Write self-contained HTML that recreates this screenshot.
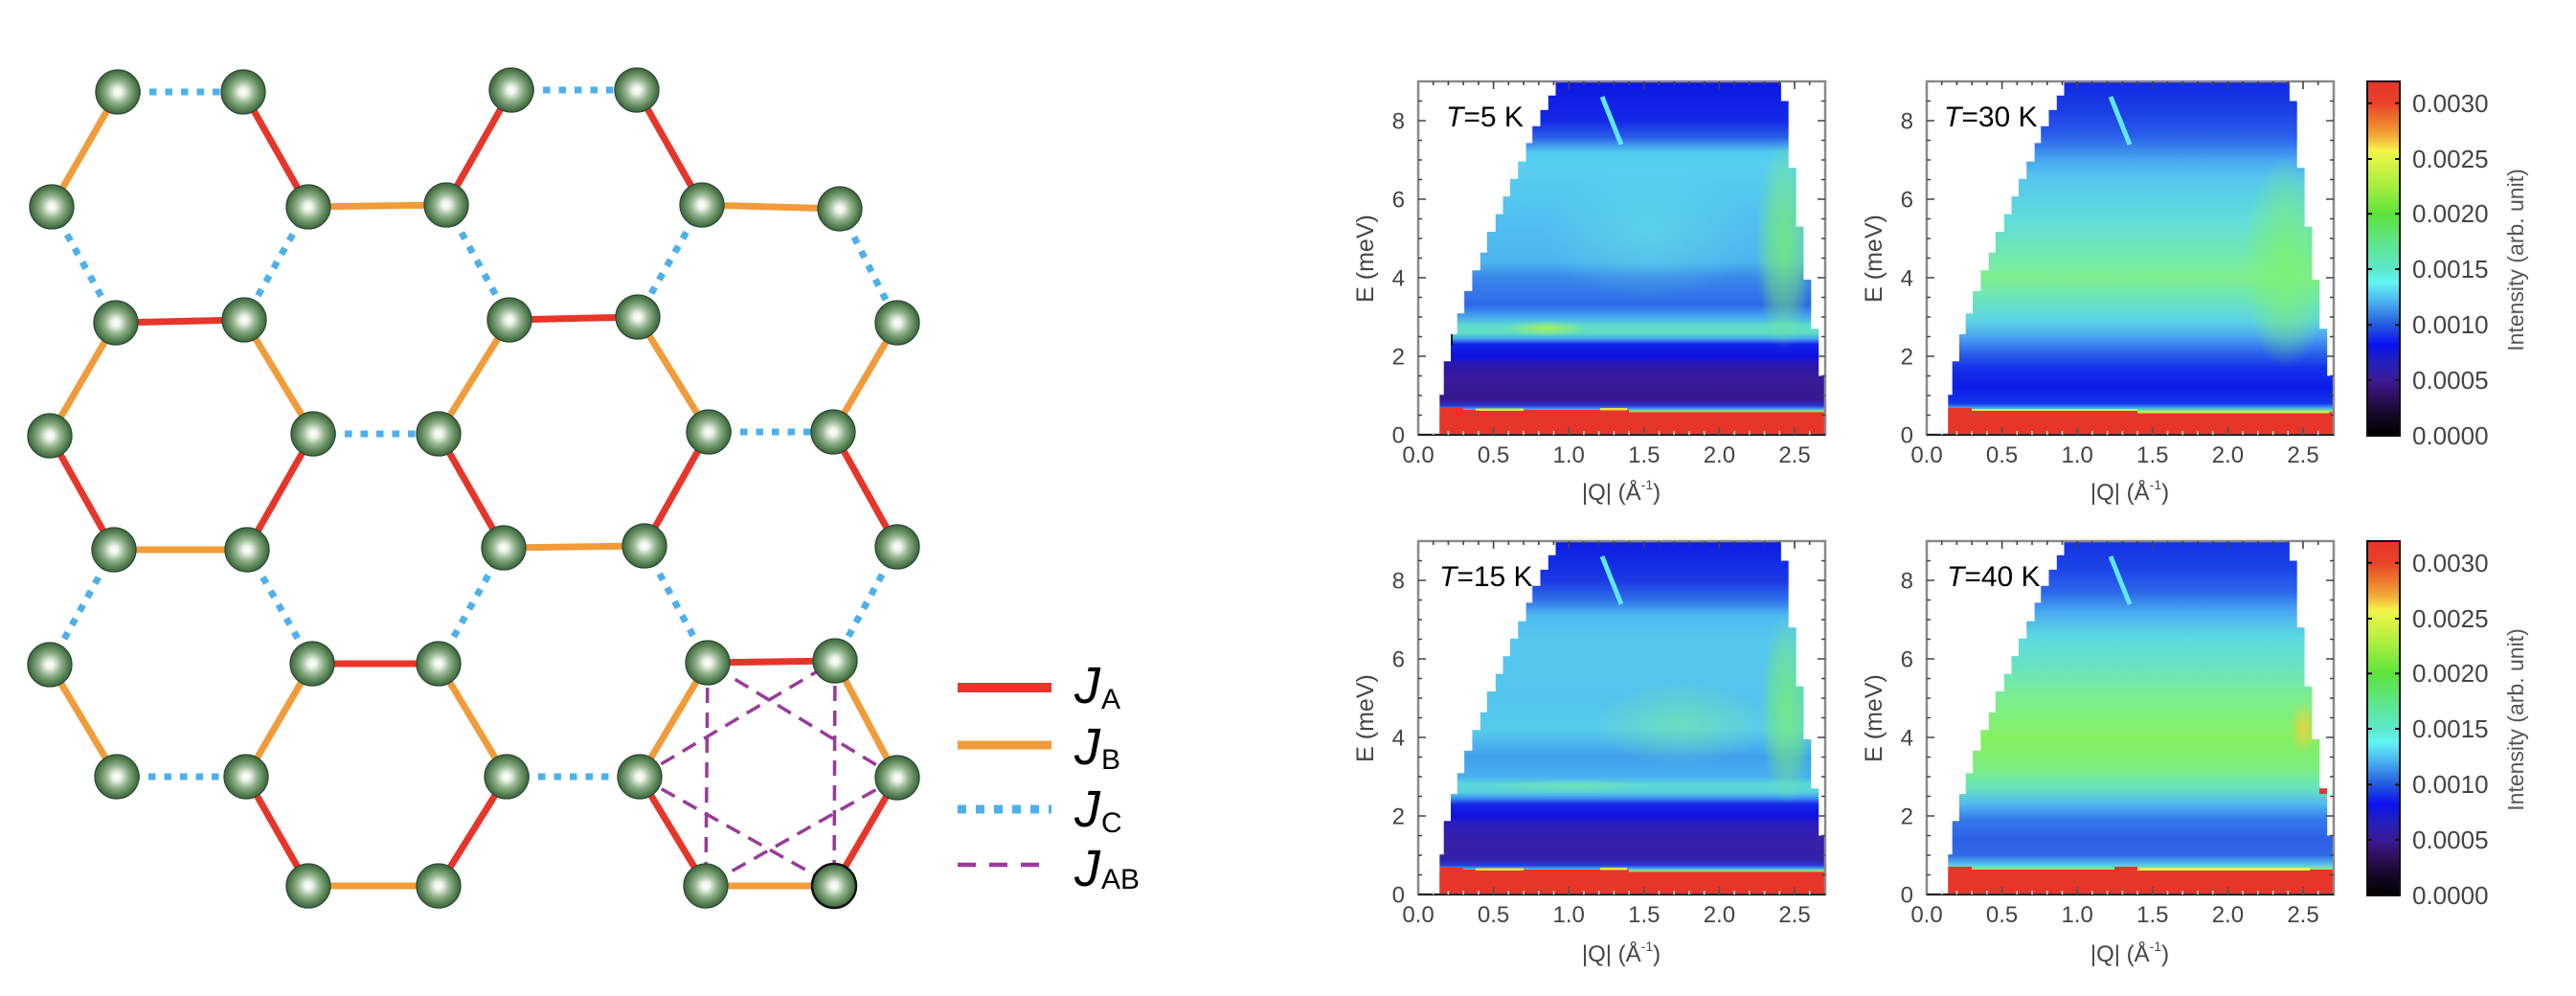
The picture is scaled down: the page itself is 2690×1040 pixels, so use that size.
<!DOCTYPE html>
<html><head><meta charset="utf-8"><style>
html,body{margin:0;padding:0;background:#fff;}
svg{display:block;}
text{font-family:"Liberation Sans",Arial,sans-serif;}
</style></head><body>
<svg width="2690" height="1040" viewBox="0 0 2690 1040" xmlns="http://www.w3.org/2000/svg">
<defs>
<radialGradient id="ball" cx="50%" cy="50%" r="50%">
<stop offset="0" stop-color="#ffffff"/><stop offset="0.18" stop-color="#eef4ea"/><stop offset="0.5" stop-color="#94b48f"/><stop offset="0.8" stop-color="#5a8456"/><stop offset="1" stop-color="#3c663c"/>
</radialGradient>
<radialGradient id="rgGreen" cx="50%" cy="50%" r="50%">
<stop offset="0" stop-color="#7cf070" stop-opacity="0.8"/><stop offset="0.6" stop-color="#7cf070" stop-opacity="0.45"/><stop offset="1" stop-color="#7cf070" stop-opacity="0"/>
</radialGradient>
<radialGradient id="rgCyan" cx="50%" cy="50%" r="50%">
<stop offset="0" stop-color="#66e4e0" stop-opacity="0.5"/><stop offset="1" stop-color="#66e4e0" stop-opacity="0"/>
</radialGradient>
<radialGradient id="rgGC" cx="50%" cy="50%" r="50%">
<stop offset="0" stop-color="#7eec98" stop-opacity="0.55"/><stop offset="1" stop-color="#7eec98" stop-opacity="0"/>
</radialGradient>
<radialGradient id="rgYel" cx="50%" cy="50%" r="50%">
<stop offset="0" stop-color="#f4d040" stop-opacity="0.9"/><stop offset="1" stop-color="#f4d040" stop-opacity="0"/>
</radialGradient>
<radialGradient id="rgLime" cx="50%" cy="50%" r="50%">
<stop offset="0" stop-color="#a8f060" stop-opacity="0.95"/><stop offset="1" stop-color="#a8f060" stop-opacity="0"/>
</radialGradient>
<clipPath id="dclip"><polygon points="22.3,369 22.3,327.2 26.7,327.2 26.7,292.3 34,292.3 34,264 40.7,264 40.7,242.3 48.1,242.3 48.1,218.9 56.4,218.9 56.4,197.2 64.8,197.2 64.8,178.8 71.8,178.8 71.8,157 80.8,157 80.8,138.6 88.5,138.6 88.5,120.1 95.9,120.1 95.9,101.7 104.2,101.7 104.2,83.6 112.6,83.6 112.6,64.4 119.2,64.4 119.2,46.7 127.5,46.7 127.5,29.9 135.8,29.9 135.8,14.8 143.5,14.8 143.5,0 378.9,0 378.9,20.5 386.7,20.5 386.7,90.2 394.6,90.2 394.6,151.7 402.4,151.7 402.4,207 410.3,207 410.3,258.3 418.2,258.3 418.2,307.5 425,307.5 425,369"/></clipPath>
<linearGradient id="g5" x1="0" y1="0" x2="0" y2="369" gradientUnits="userSpaceOnUse">
<stop offset="0" stop-color="#0c18e4"/><stop offset="0.111" stop-color="#1428e6"/><stop offset="0.156" stop-color="#2a5ae8"/><stop offset="0.2" stop-color="#50c8f0"/><stop offset="0.233" stop-color="#58d0f0"/><stop offset="0.389" stop-color="#50c0f0"/><stop offset="0.511" stop-color="#4cb4ee"/><stop offset="0.556" stop-color="#3a86ea"/><stop offset="0.633" stop-color="#2c68e8"/><stop offset="0.667" stop-color="#48a8f0"/><stop offset="0.689" stop-color="#5cdad0"/><stop offset="0.711" stop-color="#60e0c0"/><stop offset="0.728" stop-color="#48a8f0"/><stop offset="0.744" stop-color="#1424e8"/><stop offset="0.778" stop-color="#0c10e4"/><stop offset="0.8" stop-color="#2a18b0"/><stop offset="0.844" stop-color="#3a1a98"/><stop offset="0.9" stop-color="#361890"/><stop offset="0.917" stop-color="#2a30d0"/><stop offset="0.927" stop-color="#40a0f0"/><stop offset="0.933" stop-color="#a0f060"/><stop offset="0.938" stop-color="#e8352a"/><stop offset="1" stop-color="#e8352a"/>
</linearGradient>
<linearGradient id="g15" x1="0" y1="0" x2="0" y2="369" gradientUnits="userSpaceOnUse">
<stop offset="0" stop-color="#0c1ce4"/><stop offset="0.111" stop-color="#1a38e4"/><stop offset="0.167" stop-color="#3070ea"/><stop offset="0.211" stop-color="#4cbcf0"/><stop offset="0.278" stop-color="#56c8ee"/><stop offset="0.444" stop-color="#52c4ee"/><stop offset="0.533" stop-color="#56ccec"/><stop offset="0.611" stop-color="#40a0ee"/><stop offset="0.667" stop-color="#48b0f0"/><stop offset="0.689" stop-color="#5cd8d8"/><stop offset="0.711" stop-color="#58d0e0"/><stop offset="0.728" stop-color="#3a90f0"/><stop offset="0.744" stop-color="#1428e8"/><stop offset="0.778" stop-color="#1010e0"/><stop offset="0.8" stop-color="#2a1cc0"/><stop offset="0.844" stop-color="#3620a8"/><stop offset="0.9" stop-color="#3420a8"/><stop offset="0.917" stop-color="#2838d8"/><stop offset="0.927" stop-color="#40a8f0"/><stop offset="0.933" stop-color="#a0f060"/><stop offset="0.938" stop-color="#e8352a"/><stop offset="1" stop-color="#e8352a"/>
</linearGradient>
<linearGradient id="g30" x1="0" y1="0" x2="0" y2="369" gradientUnits="userSpaceOnUse">
<stop offset="0" stop-color="#1028e2"/><stop offset="0.089" stop-color="#1c40e6"/><stop offset="0.156" stop-color="#2a60ea"/><stop offset="0.222" stop-color="#48a8f0"/><stop offset="0.278" stop-color="#56c8ee"/><stop offset="0.389" stop-color="#60dcdc"/><stop offset="0.489" stop-color="#70e8b0"/><stop offset="0.556" stop-color="#80ee90"/><stop offset="0.622" stop-color="#68e4c0"/><stop offset="0.678" stop-color="#5cd4e4"/><stop offset="0.722" stop-color="#4ca4f0"/><stop offset="0.767" stop-color="#2c64ea"/><stop offset="0.811" stop-color="#1430e8"/><stop offset="0.867" stop-color="#0c1ce8"/><stop offset="0.911" stop-color="#1434e8"/><stop offset="0.924" stop-color="#40a8f0"/><stop offset="0.933" stop-color="#90ec80"/><stop offset="0.938" stop-color="#e8352a"/><stop offset="1" stop-color="#e8352a"/>
</linearGradient>
<linearGradient id="g40" x1="0" y1="0" x2="0" y2="369" gradientUnits="userSpaceOnUse">
<stop offset="0" stop-color="#1430e6"/><stop offset="0.078" stop-color="#1c44e8"/><stop offset="0.144" stop-color="#2c68ea"/><stop offset="0.2" stop-color="#48a8f0"/><stop offset="0.267" stop-color="#5cd8e4"/><stop offset="0.356" stop-color="#68e4c0"/><stop offset="0.444" stop-color="#7cee90"/><stop offset="0.556" stop-color="#84f060"/><stop offset="0.644" stop-color="#7cee80"/><stop offset="0.7" stop-color="#66e4c0"/><stop offset="0.744" stop-color="#50b8f0"/><stop offset="0.789" stop-color="#3478ea"/><stop offset="0.844" stop-color="#2c60e8"/><stop offset="0.889" stop-color="#3068e8"/><stop offset="0.917" stop-color="#5cc8ec"/><stop offset="0.929" stop-color="#90ee70"/><stop offset="0.938" stop-color="#e8352a"/><stop offset="1" stop-color="#e8352a"/>
</linearGradient>
<linearGradient id="cb" x1="0" y1="0" x2="0" y2="1">
<stop offset="0" stop-color="#e8352a"/><stop offset="0.061" stop-color="#e8422a"/><stop offset="0.113" stop-color="#ee7a2c"/><stop offset="0.158" stop-color="#f2b03a"/><stop offset="0.194" stop-color="#f6f24a"/><stop offset="0.219" stop-color="#e2f446"/><stop offset="0.293" stop-color="#a8ee40"/><stop offset="0.374" stop-color="#5ce43c"/><stop offset="0.455" stop-color="#5ee68a"/><stop offset="0.53" stop-color="#5ce8cc"/><stop offset="0.568" stop-color="#62f4f4"/><stop offset="0.617" stop-color="#4cb8f0"/><stop offset="0.688" stop-color="#2458e0"/><stop offset="0.743" stop-color="#0a10f0"/><stop offset="0.788" stop-color="#2020c0"/><stop offset="0.842" stop-color="#3c1a98"/><stop offset="0.887" stop-color="#2e1060"/><stop offset="0.941" stop-color="#160828"/><stop offset="1" stop-color="#000000"/>
</linearGradient>
</defs>

<rect width="2690" height="1040" fill="#fff"/>

<!-- ============ LATTICE ============ -->
<g stroke-width="7" stroke-linecap="butt" fill="none">
<g stroke="#e8352a">
<line x1="254" y1="96" x2="322" y2="216"/><line x1="534" y1="94" x2="466" y2="214"/><line x1="665" y1="94" x2="733" y2="214"/>
<line x1="121" y1="337" x2="255" y2="334"/><line x1="532" y1="334" x2="666" y2="331"/>
<line x1="52" y1="455" x2="119" y2="574"/><line x1="327" y1="453" x2="258" y2="574"/><line x1="458" y1="453" x2="526" y2="572"/><line x1="740" y1="451" x2="673" y2="570"/><line x1="870" y1="451" x2="937" y2="571"/>
<line x1="326" y1="693" x2="458" y2="693"/><line x1="739" y1="692" x2="872" y2="690"/>
<line x1="257" y1="811" x2="322" y2="925"/><line x1="529" y1="811" x2="458" y2="925"/><line x1="668" y1="811" x2="737" y2="925"/><line x1="937" y1="812" x2="871" y2="925"/>
</g>
<g stroke="#f19b3a">
<line x1="123" y1="96" x2="54" y2="216"/><line x1="322" y1="216" x2="466" y2="214"/><line x1="733" y1="214" x2="877" y2="218"/>
<line x1="121" y1="337" x2="52" y2="455"/><line x1="255" y1="334" x2="327" y2="453"/><line x1="532" y1="334" x2="458" y2="453"/><line x1="666" y1="331" x2="740" y2="451"/><line x1="937" y1="337" x2="870" y2="451"/>
<line x1="119" y1="574" x2="258" y2="574"/><line x1="526" y1="572" x2="673" y2="570"/>
<line x1="52" y1="694" x2="122" y2="811"/><line x1="326" y1="693" x2="257" y2="811"/><line x1="458" y1="693" x2="529" y2="811"/><line x1="739" y1="692" x2="668" y2="811"/><line x1="872" y1="690" x2="937" y2="812"/>
<line x1="322" y1="925" x2="458" y2="925"/><line x1="737" y1="925" x2="871" y2="925"/>
</g>
<g stroke="#4db0ec" stroke-dasharray="7.5 9">
<line x1="123" y1="96" x2="254" y2="96"/><line x1="534" y1="94" x2="665" y2="94"/>
<line x1="54" y1="216" x2="121" y2="337"/><line x1="322" y1="216" x2="255" y2="334"/><line x1="466" y1="214" x2="532" y2="334"/><line x1="733" y1="214" x2="666" y2="331"/><line x1="877" y1="218" x2="937" y2="337"/>
<line x1="327" y1="453" x2="458" y2="453"/><line x1="740" y1="451" x2="870" y2="451"/>
<line x1="119" y1="574" x2="52" y2="694"/><line x1="258" y1="574" x2="326" y2="693"/><line x1="526" y1="572" x2="458" y2="693"/><line x1="673" y1="570" x2="739" y2="692"/><line x1="937" y1="571" x2="872" y2="690"/>
<line x1="122" y1="811" x2="257" y2="811"/><line x1="529" y1="811" x2="668" y2="811"/>
</g>
<g stroke="#9a3a9a" stroke-width="3.5" stroke-dasharray="16 10">
<line x1="668" y1="811" x2="872" y2="690"/><line x1="668" y1="811" x2="871" y2="925"/><line x1="872" y1="690" x2="871" y2="925"/>
<line x1="937" y1="812" x2="739" y2="692"/><line x1="937" y1="812" x2="737" y2="925"/><line x1="739" y1="692" x2="737" y2="925"/>
</g>
</g>
<g fill="url(#ball)" stroke="#2e4a38" stroke-width="1.3">
<circle cx="123" cy="96" r="23"/><circle cx="254" cy="96" r="23"/><circle cx="534" cy="94" r="23"/><circle cx="665" cy="94" r="23"/>
<circle cx="54" cy="216" r="23"/><circle cx="322" cy="216" r="23"/><circle cx="466" cy="214" r="23"/><circle cx="733" cy="214" r="23"/><circle cx="877" cy="218" r="23"/>
<circle cx="121" cy="337" r="23"/><circle cx="255" cy="334" r="23"/><circle cx="532" cy="334" r="23"/><circle cx="666" cy="331" r="23"/><circle cx="937" cy="337" r="23"/>
<circle cx="52" cy="455" r="23"/><circle cx="327" cy="453" r="23"/><circle cx="458" cy="453" r="23"/><circle cx="740" cy="451" r="23"/><circle cx="870" cy="451" r="23"/>
<circle cx="119" cy="574" r="23"/><circle cx="258" cy="574" r="23"/><circle cx="526" cy="572" r="23"/><circle cx="673" cy="570" r="23"/><circle cx="937" cy="571" r="23"/>
<circle cx="52" cy="694" r="23"/><circle cx="326" cy="693" r="23"/><circle cx="458" cy="693" r="23"/><circle cx="739" cy="692" r="23"/><circle cx="872" cy="690" r="23"/>
<circle cx="122" cy="811" r="23"/><circle cx="257" cy="811" r="23"/><circle cx="529" cy="811" r="23"/><circle cx="668" cy="811" r="23"/><circle cx="937" cy="812" r="23"/>
<circle cx="322" cy="925" r="23"/><circle cx="458" cy="925" r="23"/><circle cx="737" cy="925" r="23"/>
<circle cx="871" cy="925" r="23" stroke="#111" stroke-width="2.5"/>
</g>

<!-- ============ LEGEND ============ -->
<line x1="1000" y1="718" x2="1098" y2="718" stroke="#e8342a" stroke-width="10"/>
<line x1="1000" y1="778" x2="1098" y2="778" stroke="#f19b3a" stroke-width="9"/>
<line x1="1000" y1="845" x2="1098" y2="845" stroke="#4db0ec" stroke-width="9" stroke-dasharray="9 10"/>
<line x1="1000" y1="903" x2="1098" y2="903" stroke="#9b3a9b" stroke-width="4.5" stroke-dasharray="19 14"/>
<g fill="#000">
<text x="1122" y="734" font-size="54" font-style="italic">J</text><text x="1150" y="740" font-size="30">A</text>
<text x="1122" y="798" font-size="54" font-style="italic">J</text><text x="1150" y="803" font-size="30">B</text>
<text x="1122" y="863" font-size="54" font-style="italic">J</text><text x="1150" y="869" font-size="30">C</text>
<text x="1122" y="925" font-size="54" font-style="italic">J</text><text x="1150" y="928" font-size="30">AB</text>
</g>

<!-- ============ PANEL T=5K ============ -->
<g transform="translate(1481,85)">
<g clip-path="url(#dclip)">
<rect x="0" y="0" width="425" height="369" fill="url(#g5)"/>
<ellipse cx="240" cy="160" rx="110" ry="70" fill="url(#rgCyan)"/>
<ellipse cx="382" cy="170" rx="30" ry="110" fill="url(#rgGreen)"/>
<ellipse cx="134" cy="258" rx="45" ry="8" fill="url(#rgLime)"/>
<rect x="0" y="341" width="47" height="28" fill="#e8352a"/>
<rect x="47" y="343" width="173" height="26" fill="#e8352a"/>
<rect x="60" y="341.5" width="50" height="2.5" fill="#f0e040"/>
<rect x="190" y="341" width="28" height="2.5" fill="#f0e040"/>
<rect x="30" y="258" width="6" height="18" fill="#000" opacity="0.8"/>
<path d="M192 16 L212 66" stroke="#60e8f0" stroke-width="5"/>
</g>
<rect x="0" y="0" width="425" height="369" fill="none" stroke="#8a8a8a" stroke-width="2.5"/>
<line x1="0" y1="369" x2="425" y2="369" stroke="#222" stroke-width="2"/>
<path d="M15.7 369v-4M31.4 369v-4M47.2 369v-4M62.9 369v-4M94.3 369v-4M110 369v-4M125.8 369v-4M141.5 369v-4M172.9 369v-4M188.6 369v-4M204.4 369v-4M220.1 369v-4M251.5 369v-4M267.2 369v-4M283 369v-4M298.7 369v-4M330.1 369v-4M345.8 369v-4M361.6 369v-4M377.3 369v-4M408.7 369v-4" stroke="#ddd" stroke-width="1.5"/>
<path d="M78.6 369v-8M157.2 369v-8M235.8 369v-8M314.4 369v-8M393 369v-8" stroke="#555" stroke-width="1.8"/>
<path d="M15.7 0v4M31.4 0v4M47.2 0v4M62.9 0v4M94.3 0v4M110 0v4M125.8 0v4M141.5 0v4M172.9 0v4M188.6 0v4M204.4 0v4M220.1 0v4M251.5 0v4M267.2 0v4M283 0v4M298.7 0v4M330.1 0v4M345.8 0v4M361.6 0v4M377.3 0v4M408.7 0v4M78.6 0v8M157.2 0v8M235.8 0v8M314.4 0v8M393 0v8M0 348.5h4M0 328h4M0 307.5h4M0 287h8M0 266.5h4M0 246h4M0 225.5h4M0 205h8M0 184.5h4M0 164h4M0 143.5h4M0 123h8M0 102.5h4M0 82h4M0 61.5h4M0 41h8M0 20.5h4M425 348.5h-4M425 328h-4M425 307.5h-4M425 287h-8M425 266.5h-4M425 246h-4M425 225.5h-4M425 205h-8M425 184.5h-4M425 164h-4M425 143.5h-4M425 123h-8M425 102.5h-4M425 82h-4M425 61.5h-4M425 41h-8M425 20.5h-4" stroke="#444" stroke-width="1.6"/>
<g font-size="24" fill="#444" text-anchor="end"><text x="-14" y="377.5">0</text><text x="-14" y="295.5">2</text><text x="-14" y="213.5">4</text><text x="-14" y="131.5">6</text><text x="-14" y="49.5">8</text></g>
<g font-size="24" fill="#444" text-anchor="middle"><text x="0" y="398">0.0</text><text x="78.6" y="398">0.5</text><text x="157.2" y="398">1.0</text><text x="235.8" y="398">1.5</text><text x="314.4" y="398">2.0</text><text x="393" y="398">2.5</text></g>
<text transform="translate(-47,185) rotate(-90)" font-size="25" fill="#444" text-anchor="middle">E (meV)</text>
<text x="212" y="437" font-size="24" fill="#444" text-anchor="middle">|Q| (Å<tspan font-size="14" dy="-11">-1</tspan><tspan dy="11">)</tspan></text>
<text x="29" y="47" font-size="30" fill="#000"><tspan font-style="italic">T</tspan>=5 K</text>
</g>

<!-- ============ PANEL T=30K ============ -->
<g transform="translate(2012,85)">
<g clip-path="url(#dclip)">
<rect x="0" y="0" width="425" height="369" fill="url(#g30)"/>
<ellipse cx="375" cy="190" rx="45" ry="110" fill="url(#rgGreen)"/>
<rect x="0" y="341" width="47" height="28" fill="#e8352a"/>
<rect x="47" y="342" width="173" height="3" fill="#e0e850"/>
<rect x="47" y="344" width="173" height="25" fill="#e8352a"/>
<rect x="220" y="344" width="200" height="2.5" fill="#c0f050"/>
<path d="M192 16 L212 66" stroke="#60e8f0" stroke-width="5"/>
</g>
<rect x="0" y="0" width="425" height="369" fill="none" stroke="#8a8a8a" stroke-width="2.5"/>
<line x1="0" y1="369" x2="425" y2="369" stroke="#222" stroke-width="2"/>
<path d="M15.7 369v-4M31.4 369v-4M47.2 369v-4M62.9 369v-4M94.3 369v-4M110 369v-4M125.8 369v-4M141.5 369v-4M172.9 369v-4M188.6 369v-4M204.4 369v-4M220.1 369v-4M251.5 369v-4M267.2 369v-4M283 369v-4M298.7 369v-4M330.1 369v-4M345.8 369v-4M361.6 369v-4M377.3 369v-4M408.7 369v-4" stroke="#ddd" stroke-width="1.5"/>
<path d="M78.6 369v-8M157.2 369v-8M235.8 369v-8M314.4 369v-8M393 369v-8" stroke="#555" stroke-width="1.8"/>
<path d="M15.7 0v4M31.4 0v4M47.2 0v4M62.9 0v4M94.3 0v4M110 0v4M125.8 0v4M141.5 0v4M172.9 0v4M188.6 0v4M204.4 0v4M220.1 0v4M251.5 0v4M267.2 0v4M283 0v4M298.7 0v4M330.1 0v4M345.8 0v4M361.6 0v4M377.3 0v4M408.7 0v4M78.6 0v8M157.2 0v8M235.8 0v8M314.4 0v8M393 0v8M0 348.5h4M0 328h4M0 307.5h4M0 287h8M0 266.5h4M0 246h4M0 225.5h4M0 205h8M0 184.5h4M0 164h4M0 143.5h4M0 123h8M0 102.5h4M0 82h4M0 61.5h4M0 41h8M0 20.5h4M425 348.5h-4M425 328h-4M425 307.5h-4M425 287h-8M425 266.5h-4M425 246h-4M425 225.5h-4M425 205h-8M425 184.5h-4M425 164h-4M425 143.5h-4M425 123h-8M425 102.5h-4M425 82h-4M425 61.5h-4M425 41h-8M425 20.5h-4" stroke="#444" stroke-width="1.6"/>
<g font-size="24" fill="#444" text-anchor="end"><text x="-14" y="377.5">0</text><text x="-14" y="295.5">2</text><text x="-14" y="213.5">4</text><text x="-14" y="131.5">6</text><text x="-14" y="49.5">8</text></g>
<g font-size="24" fill="#444" text-anchor="middle"><text x="0" y="398">0.0</text><text x="78.6" y="398">0.5</text><text x="157.2" y="398">1.0</text><text x="235.8" y="398">1.5</text><text x="314.4" y="398">2.0</text><text x="393" y="398">2.5</text></g>
<text transform="translate(-47,185) rotate(-90)" font-size="25" fill="#444" text-anchor="middle">E (meV)</text>
<text x="212" y="437" font-size="24" fill="#444" text-anchor="middle">|Q| (Å<tspan font-size="14" dy="-11">-1</tspan><tspan dy="11">)</tspan></text>
<text x="18" y="47" font-size="30" fill="#000"><tspan font-style="italic">T</tspan>=30 K</text>
</g>

<!-- ============ PANEL T=15K ============ -->
<g transform="translate(1481,565)">
<g clip-path="url(#dclip)">
<rect x="0" y="0" width="425" height="369" fill="url(#g15)"/>
<ellipse cx="275" cy="190" rx="90" ry="45" fill="url(#rgGC)"/>
<ellipse cx="385" cy="175" rx="28" ry="100" fill="url(#rgGreen)"/>
<ellipse cx="160" cy="256" rx="90" ry="7" fill="url(#rgGC)"/>
<rect x="0" y="341" width="47" height="28" fill="#e8352a"/>
<rect x="47" y="343" width="173" height="26" fill="#e8352a"/>
<rect x="60" y="341.5" width="50" height="2.5" fill="#f0e040"/>
<rect x="190" y="341" width="28" height="2.5" fill="#f0e040"/>
<path d="M192 16 L212 66" stroke="#60e8f0" stroke-width="5"/>
</g>
<rect x="0" y="0" width="425" height="369" fill="none" stroke="#8a8a8a" stroke-width="2.5"/>
<line x1="0" y1="369" x2="425" y2="369" stroke="#222" stroke-width="2"/>
<path d="M15.7 369v-4M31.4 369v-4M47.2 369v-4M62.9 369v-4M94.3 369v-4M110 369v-4M125.8 369v-4M141.5 369v-4M172.9 369v-4M188.6 369v-4M204.4 369v-4M220.1 369v-4M251.5 369v-4M267.2 369v-4M283 369v-4M298.7 369v-4M330.1 369v-4M345.8 369v-4M361.6 369v-4M377.3 369v-4M408.7 369v-4" stroke="#ddd" stroke-width="1.5"/>
<path d="M78.6 369v-8M157.2 369v-8M235.8 369v-8M314.4 369v-8M393 369v-8" stroke="#555" stroke-width="1.8"/>
<path d="M15.7 0v4M31.4 0v4M47.2 0v4M62.9 0v4M94.3 0v4M110 0v4M125.8 0v4M141.5 0v4M172.9 0v4M188.6 0v4M204.4 0v4M220.1 0v4M251.5 0v4M267.2 0v4M283 0v4M298.7 0v4M330.1 0v4M345.8 0v4M361.6 0v4M377.3 0v4M408.7 0v4M78.6 0v8M157.2 0v8M235.8 0v8M314.4 0v8M393 0v8M0 348.5h4M0 328h4M0 307.5h4M0 287h8M0 266.5h4M0 246h4M0 225.5h4M0 205h8M0 184.5h4M0 164h4M0 143.5h4M0 123h8M0 102.5h4M0 82h4M0 61.5h4M0 41h8M0 20.5h4M425 348.5h-4M425 328h-4M425 307.5h-4M425 287h-8M425 266.5h-4M425 246h-4M425 225.5h-4M425 205h-8M425 184.5h-4M425 164h-4M425 143.5h-4M425 123h-8M425 102.5h-4M425 82h-4M425 61.5h-4M425 41h-8M425 20.5h-4" stroke="#444" stroke-width="1.6"/>
<g font-size="24" fill="#444" text-anchor="end"><text x="-14" y="377.5">0</text><text x="-14" y="295.5">2</text><text x="-14" y="213.5">4</text><text x="-14" y="131.5">6</text><text x="-14" y="49.5">8</text></g>
<g font-size="24" fill="#444" text-anchor="middle"><text x="0" y="398">0.0</text><text x="78.6" y="398">0.5</text><text x="157.2" y="398">1.0</text><text x="235.8" y="398">1.5</text><text x="314.4" y="398">2.0</text><text x="393" y="398">2.5</text></g>
<text transform="translate(-47,185) rotate(-90)" font-size="25" fill="#444" text-anchor="middle">E (meV)</text>
<text x="212" y="439" font-size="24" fill="#444" text-anchor="middle">|Q| (Å<tspan font-size="14" dy="-11">-1</tspan><tspan dy="11">)</tspan></text>
<text x="22" y="47" font-size="30" fill="#000"><tspan font-style="italic">T</tspan>=15 K</text>
</g>

<!-- ============ PANEL T=40K ============ -->
<g transform="translate(2012,565)">
<g clip-path="url(#dclip)">
<rect x="0" y="0" width="425" height="369" fill="url(#g40)"/>
<ellipse cx="393" cy="195" rx="14" ry="28" fill="url(#rgYel)"/>
<rect x="410" y="256" width="8" height="8" fill="#e8352a"/>
<rect x="0" y="340" width="47" height="29" fill="#e8352a"/>
<rect x="47" y="343" width="400" height="26" fill="#e8352a"/>
<rect x="196" y="340" width="24" height="5" fill="#e8352a"/>
<rect x="220" y="341" width="180" height="3" fill="#e8f050"/>
<path d="M192 16 L212 66" stroke="#60e8f0" stroke-width="5"/>
</g>
<rect x="0" y="0" width="425" height="369" fill="none" stroke="#8a8a8a" stroke-width="2.5"/>
<line x1="0" y1="369" x2="425" y2="369" stroke="#222" stroke-width="2"/>
<path d="M15.7 369v-4M31.4 369v-4M47.2 369v-4M62.9 369v-4M94.3 369v-4M110 369v-4M125.8 369v-4M141.5 369v-4M172.9 369v-4M188.6 369v-4M204.4 369v-4M220.1 369v-4M251.5 369v-4M267.2 369v-4M283 369v-4M298.7 369v-4M330.1 369v-4M345.8 369v-4M361.6 369v-4M377.3 369v-4M408.7 369v-4" stroke="#ddd" stroke-width="1.5"/>
<path d="M78.6 369v-8M157.2 369v-8M235.8 369v-8M314.4 369v-8M393 369v-8" stroke="#555" stroke-width="1.8"/>
<path d="M15.7 0v4M31.4 0v4M47.2 0v4M62.9 0v4M94.3 0v4M110 0v4M125.8 0v4M141.5 0v4M172.9 0v4M188.6 0v4M204.4 0v4M220.1 0v4M251.5 0v4M267.2 0v4M283 0v4M298.7 0v4M330.1 0v4M345.8 0v4M361.6 0v4M377.3 0v4M408.7 0v4M78.6 0v8M157.2 0v8M235.8 0v8M314.4 0v8M393 0v8M0 348.5h4M0 328h4M0 307.5h4M0 287h8M0 266.5h4M0 246h4M0 225.5h4M0 205h8M0 184.5h4M0 164h4M0 143.5h4M0 123h8M0 102.5h4M0 82h4M0 61.5h4M0 41h8M0 20.5h4M425 348.5h-4M425 328h-4M425 307.5h-4M425 287h-8M425 266.5h-4M425 246h-4M425 225.5h-4M425 205h-8M425 184.5h-4M425 164h-4M425 143.5h-4M425 123h-8M425 102.5h-4M425 82h-4M425 61.5h-4M425 41h-8M425 20.5h-4" stroke="#444" stroke-width="1.6"/>
<g font-size="24" fill="#444" text-anchor="end"><text x="-14" y="377.5">0</text><text x="-14" y="295.5">2</text><text x="-14" y="213.5">4</text><text x="-14" y="131.5">6</text><text x="-14" y="49.5">8</text></g>
<g font-size="24" fill="#444" text-anchor="middle"><text x="0" y="398">0.0</text><text x="78.6" y="398">0.5</text><text x="157.2" y="398">1.0</text><text x="235.8" y="398">1.5</text><text x="314.4" y="398">2.0</text><text x="393" y="398">2.5</text></g>
<text transform="translate(-47,185) rotate(-90)" font-size="25" fill="#444" text-anchor="middle">E (meV)</text>
<text x="212" y="439" font-size="24" fill="#444" text-anchor="middle">|Q| (Å<tspan font-size="14" dy="-11">-1</tspan><tspan dy="11">)</tspan></text>
<text x="21" y="47" font-size="30" fill="#000"><tspan font-style="italic">T</tspan>=40 K</text>
</g>

<!-- ============ COLORBARS ============ -->
<g transform="translate(2472,85)">
<rect x="0" y="0" width="34" height="370" fill="url(#cb)" stroke="#111" stroke-width="2"/>
<path d="M0 22.7h5M34 22.7h-5M0 81h5M34 81h-5M0 138.3h5M34 138.3h-5M0 196h5M34 196h-5M0 254.3h5M34 254.3h-5M0 311.7h5M34 311.7h-5" stroke="#111" stroke-width="2"/>
<g font-size="26" fill="#444"><text x="47" y="32">0.0030</text><text x="47" y="90">0.0025</text><text x="47" y="147">0.0020</text><text x="47" y="205">0.0015</text><text x="47" y="263">0.0010</text><text x="47" y="321">0.0005</text><text x="47" y="379">0.0000</text></g>
<text transform="translate(163,186.5) rotate(-90)" font-size="23" fill="#555" text-anchor="middle">Intensity (arb. unit)</text>
</g>
<g transform="translate(2472,565)">
<rect x="0" y="0" width="34" height="370" fill="url(#cb)" stroke="#111" stroke-width="2"/>
<path d="M0 22.7h5M34 22.7h-5M0 81h5M34 81h-5M0 138.3h5M34 138.3h-5M0 196h5M34 196h-5M0 254.3h5M34 254.3h-5M0 311.7h5M34 311.7h-5" stroke="#111" stroke-width="2"/>
<g font-size="26" fill="#444"><text x="47" y="32">0.0030</text><text x="47" y="90">0.0025</text><text x="47" y="147">0.0020</text><text x="47" y="205">0.0015</text><text x="47" y="263">0.0010</text><text x="47" y="321">0.0005</text><text x="47" y="379">0.0000</text></g>
<text transform="translate(163,186.5) rotate(-90)" font-size="23" fill="#555" text-anchor="middle">Intensity (arb. unit)</text>
</g>
</svg>
</body></html>
